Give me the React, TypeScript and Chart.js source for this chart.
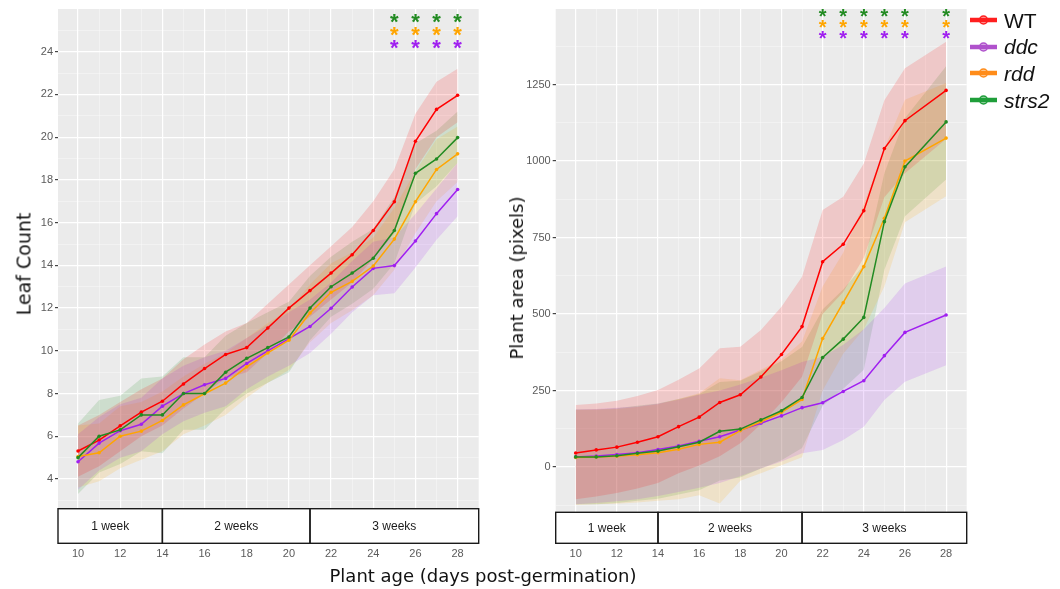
import React, { useEffect, useRef } from "react";
import { Chart, registerables } from "chart.js";

Chart.register(...registerables);

// ---------- Series meta ----------
const seriesNames = ["WT", "ddc", "rdd", "strs2"];
const seriesColors = ["#FF0000", "#A020F0", "#FFA500", "#228B22"];
const legendColors = ["#FF1F1F", "#B052CC", "#FF8C1A", "#1F9E3A"];

// ---------- Left panel: Leaf count ----------
const leafDays = [10, 11, 12, 13, 14, 15, 16, 17, 18, 19, 20, 21, 22, 23, 24, 25, 26, 27, 28];
const leafWT = [5.31, 5.82, 6.49, 7.13, 7.64, 8.45, 9.17, 9.83, 10.15, 11.07, 12.0, 12.82, 13.64, 14.5, 15.63, 16.98, 19.81, 21.3, 21.96];
const leafDdc = [4.81, 5.68, 6.26, 6.56, 7.41, 8.0, 8.41, 8.71, 9.41, 10.0, 10.57, 11.14, 11.99, 12.99, 13.86, 13.99, 15.14, 16.42, 17.55];
const leafRdd = [5.05, 5.23, 6.0, 6.24, 6.74, 7.47, 7.99, 8.49, 9.25, 9.9, 10.5, 11.77, 12.74, 13.25, 13.97, 15.23, 16.98, 18.49, 19.22];
const leafStrs2 = [5.0, 6.0, 6.3, 7.0, 7.0, 8.0, 8.0, 9.0, 9.65, 10.15, 10.65, 12.0, 13.0, 13.64, 14.33, 15.63, 18.31, 18.98, 19.98];

const leafWTHigh = [6.5, 7.0, 7.6, 8.2, 8.7, 9.6, 10.3, 10.9, 11.3, 12.2, 13.1, 14.0, 14.9, 15.8, 17.0, 18.5, 21.1, 22.6, 23.2];
const leafWTLow = [4.1, 4.6, 5.3, 6.0, 6.5, 7.3, 8.0, 8.7, 9.0, 9.9, 10.9, 11.6, 12.4, 13.2, 14.3, 15.5, 18.5, 20.0, 20.7];
const leafDdcHigh = [6.1, 6.9, 7.5, 7.8, 8.7, 9.3, 9.7, 10.0, 10.6, 11.2, 11.8, 12.4, 13.2, 14.2, 15.1, 15.3, 16.4, 17.6, 18.8];
const leafDdcLow = [3.5, 4.4, 5.0, 5.3, 6.1, 6.7, 7.1, 7.4, 8.2, 8.8, 9.3, 9.9, 10.8, 11.8, 12.6, 12.7, 13.9, 15.2, 16.3];
const leafRddHigh = [6.5, 6.6, 7.4, 7.6, 8.1, 8.8, 9.4, 9.9, 10.6, 11.3, 11.9, 13.1, 14.1, 14.6, 15.3, 16.7, 18.4, 19.9, 20.5];
const leafRddLow = [3.6, 3.9, 4.5, 4.9, 5.3, 6.1, 6.5, 7.0, 7.8, 8.5, 9.1, 10.4, 11.3, 11.9, 12.6, 13.8, 15.5, 17.0, 17.9];
const leafStrs2High = [6.6, 7.7, 7.9, 8.7, 8.8, 9.7, 9.7, 10.7, 11.3, 11.8, 12.3, 13.5, 14.4, 15.1, 15.7, 17.2, 19.7, 20.3, 21.2];
const leafStrs2Low = [3.3, 4.3, 4.7, 5.3, 5.2, 6.3, 6.3, 7.3, 8.0, 8.5, 9.0, 10.5, 11.6, 12.2, 12.9, 14.1, 16.9, 17.7, 18.8];

const leafYTicks = [3, 4, 5, 6, 7, 8, 9, 10, 11, 12, 13, 14, 15, 16, 17, 18, 19, 20, 21, 22, 23, 24, 25];
const leafYLabels = [4, 6, 8, 10, 12, 14, 16, 18, 20, 22, 24];
const leafStarDays = [25, 26, 27, 28];

// ---------- Right panel: Plant area ----------
const areaDays = [10, 11, 12, 13, 14, 15, 16, 17, 18, 19, 20, 21, 22, 23, 24, 25, 26, 28];
const areaWT = [46, 56, 65, 81, 99, 132, 163, 211, 236, 294, 368, 459, 671, 728, 838, 1041, 1132, 1231];
const areaDdc = [33, 36, 41, 47, 57, 69, 84, 99, 121, 143, 167, 194, 210, 247, 282, 364, 440, 497];
const areaRdd = [31, 33, 35, 40, 47, 58, 74, 81, 119, 148, 179, 221, 420, 537, 655, 813, 1000, 1075];
const areaStrs2 = [33, 33, 37, 45, 52, 66, 81, 117, 124, 154, 184, 227, 358, 418, 489, 802, 981, 1128];

const areaWTHigh = [203, 208, 217, 232, 252, 285, 322, 388, 393, 448, 524, 622, 840, 883, 992, 1199, 1303, 1390];
const areaWTLow = [-105, -96, -85, -70, -52, -20, 5, 35, 78, 140, 212, 295, 500, 572, 684, 882, 960, 1072];
const areaDdcHigh = [188, 190, 194, 198, 207, 220, 236, 250, 270, 292, 316, 343, 360, 400, 450, 520, 600, 655];
const areaDdcLow = [-122, -118, -112, -105, -95, -82, -68, -52, -30, -5, 18, 45, 56, 88, 132, 219, 279, 333];
const areaRddHigh = [186, 188, 190, 196, 205, 222, 241, 290, 284, 318, 352, 410, 590, 700, 860, 1040, 1200, 1255];
const areaRddLow = [-124, -122, -120, -116, -110, -105, -92, -119, -45, -20, 6, 32, 250, 370, 450, 590, 800, 885];
const areaStrs2High = [188, 188, 192, 200, 208, 222, 238, 278, 282, 313, 346, 392, 515, 580, 660, 960, 1140, 1310];
const areaStrs2Low = [-122, -122, -118, -110, -104, -90, -76, -44, -34, -5, 22, 62, 200, 256, 318, 645, 820, 940];

const areaYTicks = [-125, 0, 125, 250, 375, 500, 625, 750, 875, 1000, 1125, 1250, 1375];
const areaYLabels = [0, 250, 500, 750, 1000, 1250];
const areaStarDays = [22, 23, 24, 25, 26, 28];

// ---------- Shared x axis ----------
const xTicks = [10, 11, 12, 13, 14, 15, 16, 17, 18, 19, 20, 21, 22, 23, 24, 25, 26, 27, 28];
const xLabels = [10, 12, 14, 16, 18, 20, 22, 24, 26, 28];
const weekLabels = ["1 week", "2 weeks", "3 weeks"];
const weekBreaks = [14, 21];
const starColors = ["#228B22", "#FFA500", "#A020F0"];

function rgba(hex: string, a: number) {
  const n = parseInt(hex.slice(1), 16);
  return `rgba(${(n >> 16) & 255},${(n >> 8) & 255},${n & 255},${a})`;
}

function buildDatasets(days: number[], means: number[][], lows: number[][], highs: number[][]) {
  const ds: any[] = [];
  means.forEach((_, i) => {
    ds.push({
      data: days.map((d, k) => ({ x: d, y: highs[i][k] })),
      borderWidth: 0,
      pointRadius: 0,
      fill: "+1",
      backgroundColor: rgba(seriesColors[i], 0.15),
      order: 10,
    });
    ds.push({
      data: days.map((d, k) => ({ x: d, y: lows[i][k] })),
      borderWidth: 0,
      pointRadius: 0,
      fill: false,
      order: 10,
    });
  });
  means.forEach((m, i) => {
    ds.push({
      label: seriesNames[i],
      data: days.map((d, k) => ({ x: d, y: m[k] })),
      borderColor: seriesColors[i],
      backgroundColor: seriesColors[i],
      borderWidth: 1.5,
      pointRadius: 1.8,
      pointBorderWidth: 0,
      fill: false,
      tension: 0,
      order: 4 - i,
    });
  });
  return ds;
}

interface PanelCfg {
  days: number[];
  means: number[][];
  lows: number[][];
  highs: number[][];
  yMin: number;
  yMax: number;
  xMin: number;
  xMax: number;
  yTicks: number[];
  yLabels: number[];
  yAxisWidth: number;
  xAxisHeight: number;
  xLabelPad: number;
  padRight: number;
  boxBottom: number;
  starDays: number[];
  starOffsets: number[];
  starSize: number;
}

function makePlugin(cfg: PanelCfg) {
  return {
    id: "panelDeco",
    beforeDraw(chart: any) {
      const { ctx, chartArea } = chart;
      ctx.save();
      ctx.fillStyle = "#EBEBEB";
      ctx.fillRect(chartArea.left, chartArea.top, chartArea.right - chartArea.left, chartArea.bottom - chartArea.top);
      ctx.restore();
    },
    afterDraw(chart: any) {
      const { ctx, chartArea } = chart;
      const x = chart.scales.x;
      const edges = [chartArea.left, x.getPixelForValue(weekBreaks[0]), x.getPixelForValue(weekBreaks[1]), chartArea.right];
      const top = chartArea.bottom;
      const h = cfg.boxBottom - top;
      ctx.save();
      ctx.fillStyle = "#FFFFFF";
      ctx.fillRect(edges[0], top, edges[3] - edges[0], h);
      ctx.strokeStyle = "#1A1A1A";
      ctx.lineWidth = 1.4;
      for (let i = 0; i < 3; i++) {
        ctx.strokeRect(edges[i], top, edges[i + 1] - edges[i], h);
      }
      ctx.fillStyle = "#1A1A1A";
      ctx.font = "12px 'Liberation Sans', Arial, sans-serif";
      ctx.textAlign = "center";
      ctx.textBaseline = "middle";
      for (let i = 0; i < 3; i++) {
        ctx.fillText(weekLabels[i], (edges[i] + edges[i + 1]) / 2, top + h / 2 + 1);
      }
      // significance asterisks
      ctx.font = `bold ${cfg.starSize}px 'Liberation Sans', Arial, sans-serif`;
      ctx.textBaseline = "alphabetic";
      const m = ctx.measureText("*");
      const shift = (m.actualBoundingBoxAscent - m.actualBoundingBoxDescent) / 2;
      cfg.starOffsets.forEach((off, r) => {
        ctx.fillStyle = starColors[r];
        cfg.starDays.forEach((d) => {
          ctx.fillText("*", x.getPixelForValue(d), chartArea.top + off + shift);
        });
      });
      ctx.restore();
    },
  };
}

function buildConfig(cfg: PanelCfg) {
  const font = { family: "'Liberation Sans', Arial, sans-serif", size: 11 };
  return {
    type: "line",
    data: { datasets: buildDatasets(cfg.days, cfg.means, cfg.lows, cfg.highs) },
    options: {
      responsive: false,
      animation: false,
      events: [],
      layout: { padding: { top: 9, right: cfg.padRight, left: 0, bottom: 0 } },
      plugins: {
        legend: { display: false },
        tooltip: { enabled: false },
        filler: { drawTime: "beforeDatasetsDraw" },
      },
      scales: {
        x: {
          type: "linear",
          min: cfg.xMin,
          max: cfg.xMax,
          afterBuildTicks: (s: any) => {
            s.ticks = xTicks.map((v) => ({ value: v }));
          },
          afterFit: (s: any) => {
            s.height = cfg.xAxisHeight;
          },
          border: { display: false },
          grid: {
            drawTicks: true,
            tickLength: cfg.xLabelPad,
            tickColor: "rgba(0,0,0,0)",
            color: (c: any) => (c.tick && xLabels.includes(c.tick.value) ? "#FFFFFF" : "rgba(255,255,255,0.6)"),
            lineWidth: (c: any) => (c.tick && xLabels.includes(c.tick.value) ? 1.2 : 0.6),
          },
          ticks: {
            autoSkip: false,
            maxRotation: 0,
            padding: 0,
            color: "#5A5A5A",
            font,
            callback: (v: number) => (xLabels.includes(v) ? String(v) : ""),
          },
        },
        y: {
          type: "linear",
          min: cfg.yMin,
          max: cfg.yMax,
          afterBuildTicks: (s: any) => {
            s.ticks = cfg.yTicks.map((v) => ({ value: v }));
          },
          afterFit: (s: any) => {
            s.width = cfg.yAxisWidth;
          },
          border: { display: false },
          grid: {
            drawTicks: true,
            tickLength: 3,
            tickColor: (c: any) => (c.tick && cfg.yLabels.includes(c.tick.value) ? "#444444" : "rgba(0,0,0,0)"),
            color: (c: any) => (c.tick && cfg.yLabels.includes(c.tick.value) ? "#FFFFFF" : "rgba(255,255,255,0.6)"),
            lineWidth: (c: any) => (c.tick && cfg.yLabels.includes(c.tick.value) ? 1.2 : 0.6),
          },
          ticks: {
            autoSkip: false,
            padding: 2,
            color: "#5A5A5A",
            font,
            callback: (v: number) => (cfg.yLabels.includes(v) ? String(v) : ""),
          },
        },
      },
    },
    plugins: [makePlugin(cfg)],
  };
}

const leftCfg: PanelCfg = {
  days: leafDays,
  means: [leafWT, leafDdc, leafRdd, leafStrs2],
  lows: [leafWTLow, leafDdcLow, leafRddLow, leafStrs2Low],
  highs: [leafWTHigh, leafDdcHigh, leafRddHigh, leafStrs2High],
  yMin: 2.61,
  yMax: 26.0,
  xMin: 9.05,
  xMax: 29.0,
  yTicks: leafYTicks,
  yLabels: leafYLabels,
  yAxisWidth: 58,
  xAxisHeight: 80.3,
  xLabelPad: 38.5,
  padRight: 11.3,
  boxBottom: 543.3,
  starDays: leafStarDays,
  starOffsets: [9.3, 22.7, 35.3],
  starSize: 22,
};

const rightCfg: PanelCfg = {
  days: areaDays,
  means: [areaWT, areaDdc, areaRdd, areaStrs2],
  lows: [areaWTLow, areaDdcLow, areaRddLow, areaStrs2Low],
  highs: [areaWTHigh, areaDdcHigh, areaRddHigh, areaStrs2High],
  yMin: -148,
  yMax: 1497,
  xMin: 9.03,
  xMax: 29.0,
  yTicks: areaYTicks,
  yLabels: areaYLabels,
  yAxisWidth: 65.7,
  xAxisHeight: 76.7,
  xLabelPad: 35,
  padRight: 93.3,
  boxBottom: 543.3,
  starDays: areaStarDays,
  starOffsets: [3.7, 15, 26],
  starSize: 20,
};

function Panel({ cfg, left, width }: { cfg: PanelCfg; left: number; width: number }) {
  const ref = useRef<HTMLCanvasElement>(null);
  useEffect(() => {
    if (!ref.current) return;
    const chart = new Chart(ref.current, buildConfig(cfg) as any);
    return () => chart.destroy();
  }, [cfg]);
  return (
    <canvas
      ref={ref}
      width={width}
      height={589}
      style={{ position: "absolute", left, top: 0, width, height: 589 }}
    />
  );
}

const titleFont = "'DejaVu Sans', Verdana, sans-serif";

function Title({ text, cx, cy, rotate, size }: { text: string; cx: number; cy: number; rotate?: boolean; size: number }) {
  return (
    <div
      style={{
        position: "absolute",
        left: cx,
        top: cy,
        transform: `translate(-50%, -50%)${rotate ? " rotate(-90deg)" : ""}`,
        whiteSpace: "nowrap",
        fontFamily: titleFont,
        fontSize: size,
        lineHeight: 1,
        color: "#111",
      }}
    >
      {text}
    </div>
  );
}

function Legend() {
  const ys = [20, 46.7, 73.3, 100];
  return (
    <>
      {seriesNames.map((n, i) => (
        <div key={n} style={{ position: "absolute", left: 969, top: ys[i] - 10, height: 20, display: "flex", alignItems: "center" }}>
          <svg width={30} height={14} style={{ display: "block" }}>
            <line x1={1} y1={7} x2={28} y2={7} stroke={legendColors[i]} strokeWidth={4.5} />
            <circle cx={14.5} cy={7} r={4} fill={rgba(legendColors[i], 0.35)} stroke={legendColors[i]} strokeWidth={1.5} />
          </svg>
          <span
            style={{
              marginLeft: 5,
              fontFamily: "'Liberation Sans', Arial, sans-serif",
              fontSize: 21,
              fontStyle: i === 0 ? "normal" : "italic",
              color: "#111",
              lineHeight: 1,
            }}
          >
            {n}
          </span>
        </div>
      ))}
    </>
  );
}

export default function App() {
  return (
    <div style={{ position: "fixed", left: 0, top: 0, width: 1060, height: 589, background: "#FFFFFF", overflow: "hidden" }}>
      <Panel cfg={leftCfg} left={0} width={490} />
      <Panel cfg={rightCfg} left={490} width={570} />
      <Title text="Leaf Count" cx={24} cy={264} rotate size={19} />
      <Title text="Plant area (pixels)" cx={517} cy={278} rotate size={18} />
      <Title text="Plant age (days post-germination)" cx={483} cy={576} size={18} />
      <Legend />
    </div>
  );
}
